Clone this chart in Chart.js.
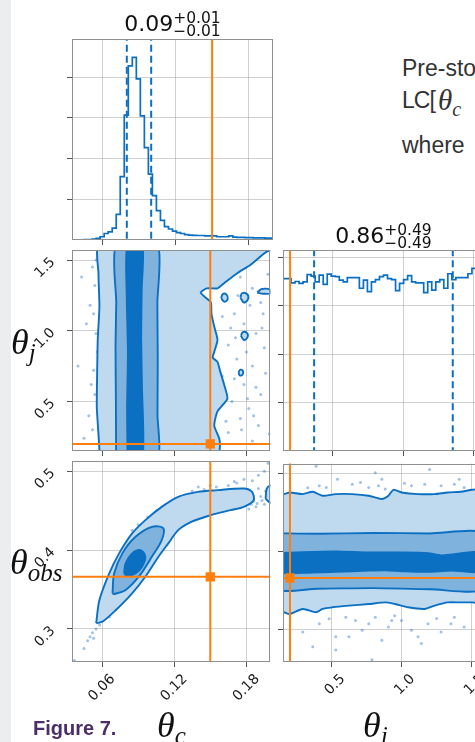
<!DOCTYPE html>
<html>
<head>
<meta charset="utf-8">
<title>Figure 7</title>
<script src="https://cdn.jsdelivr.net/npm/chart.js@4.4.1/dist/chart.umd.min.js"></script>
<style>
  html, body { margin: 0; padding: 0; background: #fff; width: 475px; height: 742px; overflow: hidden; }
  #page { position: relative; width: 475px; height: 742px; overflow: hidden; }
  #strip { position: absolute; left: 0; top: 0; width: 11px; height: 742px; background: #ebedee; }
  canvas { position: absolute; }
  .ttl { position: absolute; width: 201px; text-align: center; font-family: "DejaVu Sans"; font-size: 22px;
         line-height: 1; color: #111; white-space: nowrap; z-index: 5; }
  .ttl .ss { display: inline-block; vertical-align: middle; font-size: 15.5px; line-height: 13px; text-align: left; }
  .ttl .ss span { display: block; }
  .axl { position: absolute; font-family: "Liberation Serif"; font-style: italic; font-size: 36px; line-height: 1;
         color: #111; white-space: nowrap; z-index: 5; }
  .axl .sb { font-size: 25px; position: relative; top: 7px; }
  .txt { position: absolute; font-family: "Liberation Sans"; font-size: 23px; line-height: 1; color: #333;
         white-space: nowrap; z-index: 5; }
  .th { position: absolute; font-family: "Liberation Serif"; font-style: italic; font-size: 29px; line-height: 1;
        color: #333; white-space: nowrap; z-index: 5; }
  .th .sb { font-size: 20px; position: relative; top: 6px; }
  #fig { position: absolute; left: 33px; top: 718px; font-family: "Liberation Sans"; font-size: 20px;
         font-weight: bold; line-height: 1; color: #4b2d69; z-index: 5; }
</style>
</head>
<body>
<div id="page">
  <div id="strip"></div>

  <div class="ttl" style="left:72px;top:12px">0.09<span class="ss"><span>+0.01</span><span>−0.01</span></span></div>
  <div class="ttl" style="left:283px;top:224px">0.86<span class="ss"><span>+0.49</span><span>−0.49</span></span></div>

  <div class="txt" style="left:402px;top:57px">Pre-sto</div>
  <div class="txt" style="left:402px;top:89px;letter-spacing:-1px">LC[</div>
  <div class="th" style="left:438px;top:86px">θ<span class="sb">c</span></div>
  <div class="txt" style="left:402px;top:134px">where</div>

  <div class="axl" style="left:11px;top:324px">θ<span class="sb">j</span></div>
  <div class="axl" style="left:10px;top:544px">θ<span class="sb">obs</span></div>
  <div class="axl" style="left:157px;top:707px">θ<span class="sb">c</span></div>
  <div class="axl" style="left:363px;top:707px">θ<span class="sb">j</span></div>

  <div id="fig">Figure 7.</div>
</div>

<script>
// ---- values ----
const thetaCRange = [0.035, 0.2];
const thetaJRange = [0.15, 1.5708];
const thetaObsRange = [0.258, 0.513];

const thetaCTicks = [0.06, 0.12, 0.18];
const thetaCTickLabels = ['0.06', '0.12', '0.18'];
const thetaJTicks = [0.5, 1.0, 1.5];
const thetaJTickLabels = ['0.5', '1.0', '1.5'];
const thetaObsTicks = [0.3, 0.4, 0.5];
const thetaObsTickLabels = ['0.3', '0.4', '0.5'];
const histTicks = [1, 2, 3, 4];

const truthThetaC = 0.15;
const truthThetaJ = 0.2;
const truthThetaObs = 0.366;

const thetaCQuantiles = [0.08, 0.10];
const thetaJQuantiles = [0.37, 1.35];

// histogram heights, 50 equal bins across the axis range
const thetaCHist = [0, 0, 0.005, 0.01, 0.01, 0.02, 0.04, 0.08, 0.16, 0.2,
  0.29, 0.63, 1.56, 3.07, 4.28, 4.49, 3.96, 3.05, 2.27, 1.62,
  1.09, 0.72, 0.48, 0.33, 0.27, 0.22, 0.18, 0.16, 0.13, 0.12,
  0.115, 0.11, 0.11, 0.1, 0.1, 0.1, 0.08, 0.08, 0.08, 0.1,
  0.07, 0.065, 0.065, 0.06, 0.06, 0.05, 0.05, 0.05, 0.045, 0.045];
const thetaCHistMax = 4.94;

const thetaJHist = [3.56, 3.56, 3.47, 3.5, 3.46, 3.49, 3.64, 3.61, 3.49, 3.63,
  3.44, 3.65, 3.61, 3.6, 3.53, 3.49, 3.58, 3.58, 3.58, 3.36,
  3.53, 3.29, 3.49, 3.54, 3.6, 3.63, 3.56, 3.54, 3.31, 3.46,
  3.54, 3.62, 3.49, 3.47, 3.47, 3.27, 3.49, 3.32, 3.49, 3.54,
  3.36, 3.66, 3.54, 3.58, 3.58, 3.58, 3.66, 3.77, 3.7, 3.62];
const thetaJHistMax = 4.15;

// theta_c vs theta_j contours
const cjOuter = [[0.0575, 0.10], [0.0578, 0.158], [0.0564, 0.347], [0.0556, 0.465], [0.0559, 0.70],
  [0.0564, 0.936], [0.0578, 1.171], [0.057, 1.407], [0.0578, 1.60], [0.21, 1.60],
  [0.197, 1.559], [0.1833, 1.465], [0.1724, 1.407], [0.1615, 1.336], [0.156, 1.30], [0.147, 1.30],
  [0.142, 1.27], [0.146, 1.235], [0.1505, 1.2], [0.151, 1.12], [0.1533, 1.03], [0.156, 0.936],
  [0.1533, 0.85], [0.152, 0.81], [0.156, 0.78], [0.158, 0.72], [0.1615, 0.62], [0.1642, 0.52],
  [0.156, 0.43], [0.1533, 0.33], [0.1574, 0.24], [0.158, 0.18], [0.156, 0.10], [0.0575, 0.10]];
const cjMiddle = [[0.0717, 0.1], [0.0715, 0.5], [0.0712, 0.9], [0.0718, 1.2], [0.0716, 1.6],
  [0.1063, 1.6], [0.106, 1.2], [0.1063, 0.8], [0.1061, 0.4], [0.1063, 0.1], [0.0717, 0.1]];
const cjInner = [[0.0812, 0.1], [0.0808, 0.45], [0.0815, 0.85], [0.0805, 1.25], [0.081, 1.6],
  [0.0935, 1.6], [0.093, 1.3], [0.0925, 0.95], [0.0932, 0.6], [0.0936, 0.1], [0.0812, 0.1]];
const cjIslands = [
  [[0.149, 1.40], [0.1503, 1.42], [0.1522, 1.41], [0.152, 1.39], [0.150, 1.385], [0.149, 1.40]],
  [[0.159, 1.23], [0.1605, 1.26], [0.1635, 1.255], [0.1645, 1.225], [0.162, 1.205], [0.159, 1.23]],
  [[0.175, 1.235], [0.1765, 1.265], [0.1805, 1.26], [0.1815, 1.225], [0.178, 1.2], [0.175, 1.235]],
  [[0.189, 1.27], [0.193, 1.295], [0.2, 1.29], [0.2, 1.265], [0.194, 1.262], [0.189, 1.27]],
  [[0.1755, 0.965], [0.177, 0.99], [0.1805, 0.985], [0.181, 0.955], [0.178, 0.935], [0.1755, 0.965]],
  [[0.1735, 0.705], [0.175, 0.725], [0.1772, 0.715], [0.1768, 0.69], [0.1745, 0.685], [0.1735, 0.705]]
];
const cjSamples = [[0.052, 1.45], [0.054, 1.32], [0.050, 1.18], [0.053, 1.12], [0.047, 1.05], [0.055, 0.98],
  [0.040, 0.75], [0.051, 0.62], [0.054, 0.55], [0.049, 0.40], [0.052, 0.30], [0.045, 0.24], [0.055, 1.5],
  [0.056, 0.85], [0.043, 1.38], [0.053, 0.72], [0.165, 1.45], [0.175, 1.38], [0.185, 1.30], [0.192, 1.20],
  [0.170, 1.12], [0.178, 1.05], [0.188, 0.98], [0.165, 0.90], [0.195, 0.88], [0.172, 0.80], [0.185, 0.75],
  [0.160, 0.68], [0.178, 0.62], [0.192, 0.55], [0.168, 0.50], [0.182, 0.45], [0.175, 0.38], [0.190, 0.33],
  [0.165, 0.28], [0.185, 0.22], [0.198, 1.40], [0.183, 1.18], [0.171, 0.95], [0.196, 0.70], [0.176, 0.30],
  [0.160, 1.10], [0.188, 0.60], [0.170, 0.66], [0.193, 1.02], [0.18, 0.85], [0.1355, 0.712],
  [0.167, 1.02], [0.181, 0.52], [0.163, 0.36], [0.194, 1.12], [0.173, 1.25], [0.186, 0.40], [0.199, 0.27]];

// theta_c vs theta_obs contours
const coOuter = [[0.0551, 0.3072], [0.0578, 0.3367], [0.066, 0.3705], [0.0742, 0.3958], [0.085, 0.4211],
  [0.096, 0.438], [0.1096, 0.4548], [0.1233, 0.4675], [0.1396, 0.4738], [0.156, 0.476], [0.1779, 0.4781],
  [0.1847, 0.4738], [0.1861, 0.4633], [0.1779, 0.4548], [0.1669, 0.4506], [0.1505, 0.4443], [0.1342, 0.4358],
  [0.1233, 0.4253], [0.1151, 0.4085], [0.1069, 0.3915], [0.096, 0.3662], [0.085, 0.3452], [0.0715, 0.324],
  [0.0605, 0.3093], [0.0551, 0.3072]];
const coOuterEdge = [[0.196, 0.465], [0.197, 0.478], [0.2, 0.482], [0.205, 0.482], [0.205, 0.462],
  [0.2, 0.46], [0.196, 0.465]];
const coMiddle = [[0.0687, 0.3452], [0.0701, 0.3705], [0.0769, 0.3958], [0.0878, 0.4168], [0.1014, 0.4295],
  [0.111, 0.4275], [0.1096, 0.4127], [0.1014, 0.3915], [0.0905, 0.3662], [0.0796, 0.3494], [0.0701, 0.3443],
  [0.0687, 0.3452]];
const coInner = [[0.0783, 0.3705], [0.0796, 0.3832], [0.085, 0.3958], [0.0919, 0.4], [0.096, 0.3915],
  [0.0932, 0.3789], [0.0878, 0.3705], [0.081, 0.3671], [0.0783, 0.3705]];
const coSamples = [[0.115, 0.458], [0.125, 0.468], [0.135, 0.475], [0.145, 0.477], [0.155, 0.480],
  [0.165, 0.482], [0.172, 0.485], [0.178, 0.490], [0.185, 0.488], [0.19, 0.495], [0.195, 0.50], [0.198, 0.51],
  [0.19, 0.478], [0.186, 0.462], [0.192, 0.468], [0.196, 0.475], [0.188, 0.455], [0.182, 0.452], [0.195, 0.458],
  [0.175, 0.455], [0.105, 0.450], [0.098, 0.442], [0.09, 0.432], [0.085, 0.425], [0.16, 0.476], [0.15, 0.482],
  [0.14, 0.48], [0.055, 0.30], [0.052, 0.295], [0.05, 0.29], [0.048, 0.285], [0.053, 0.288], [0.058, 0.305],
  [0.045, 0.275], [0.037, 0.26], [0.06, 0.31], [0.066, 0.315], [0.07, 0.335], [0.072, 0.34],
  [0.193, 0.463], [0.189, 0.459], [0.197, 0.470], [0.184, 0.458], [0.170, 0.487]];

// theta_j vs theta_obs contours
const joOuter = [[0.10, 0.4738], [0.1556, 0.4738], [0.198, 0.4759], [0.292, 0.4738], [0.363, 0.4768],
  [0.433, 0.4717], [0.528, 0.4738], [0.646, 0.4738], [0.764, 0.4717], [0.858, 0.4675], [0.905, 0.4717],
  [0.941, 0.4793], [0.999, 0.4759], [1.117, 0.4738], [1.235, 0.4738], [1.329, 0.4759], [1.423, 0.4768],
  [1.506, 0.4793], [1.60, 0.48], [1.60, 0.3346], [1.506, 0.3346], [1.423, 0.3346], [1.329, 0.3346],
  [1.235, 0.3304], [1.164, 0.3262], [1.046, 0.3283], [0.952, 0.3325], [0.882, 0.3346], [0.764, 0.3325],
  [0.622, 0.3304], [0.504, 0.3283], [0.433, 0.3262], [0.386, 0.3219], [0.292, 0.3262], [0.198, 0.3198],
  [0.1556, 0.3219], [0.10, 0.3219], [0.10, 0.4738]];
const joMiddle = [[0.1, 0.4235], [0.4, 0.4228], [0.8, 0.4238], [1.2, 0.4232], [1.6, 0.4225],
  [1.6, 0.3525], [1.2, 0.3515], [0.8, 0.353], [0.4, 0.3522], [0.1, 0.3527], [0.1, 0.4235]];
const joInner = [[0.1, 0.3979], [0.292, 0.3992], [0.528, 0.40], [0.764, 0.3987], [0.999, 0.3987],
  [1.188, 0.3979], [1.282, 0.3949], [1.377, 0.3966], [1.6, 0.3992], [1.6, 0.3747], [1.353, 0.3755],
  [1.188, 0.3738], [0.999, 0.3747], [0.882, 0.3759], [0.764, 0.3755], [0.528, 0.3738], [0.292, 0.3726],
  [0.1, 0.3738], [0.1, 0.3979]];
const joSamples = [[0.327, 0.482], [0.41, 0.4844], [0.54, 0.4928], [0.646, 0.4865], [0.705, 0.4886],
  [0.764, 0.4823], [0.834, 0.4844], [0.858, 0.4928], [0.882, 0.4802], [1.07, 0.4844], [1.165, 0.4865],
  [1.2, 0.5055], [1.282, 0.4844], [1.377, 0.4865], [1.412, 0.4928], [1.447, 0.4823], [0.387, 0.5097],
  [0.811, 0.5013], [0.292, 0.2966], [0.41, 0.3072], [0.48, 0.3135], [0.528, 0.2903], [0.622, 0.2903],
  [0.669, 0.3114], [0.764, 0.3072], [0.811, 0.3156], [0.858, 0.2861], [0.905, 0.3029], [0.999, 0.3114],
  [1.07, 0.2987], [1.141, 0.2819], [1.188, 0.3072], [1.282, 0.2966], [1.377, 0.3156], [1.447, 0.3029],
  [0.363, 0.2776], [0.787, 0.2608], [1.117, 0.2903], [0.528, 0.2734], [0.929, 0.3114], [0.717, 0.2987],
  [1.353, 0.3072], [0.60, 0.3155], [0.95, 0.3175], [1.25, 0.3140], [0.46, 0.4822], [1.02, 0.4878]];

// ---- styling ----
const BLUE = '#0b6fc2';
const LIGHT = '#bfdaef';
const MID = '#7fb3de';
const DARK = '#0b6fc2';
const ORANGE = '#ff7f0e';
const DOT = 'rgba(30,110,195,0.42)';
const PW = 201, PH = 201;
const colX = [72, 283];
const rowY = [39, 250, 461];

Chart.defaults.font.family = 'DejaVu Sans';

function pts(list) { return list.map(p => ({x: p[0], y: p[1]})); }

function histPoints(range, counts) {
  const w = (range[1] - range[0]) / counts.length;
  const out = counts.map((c, i) => ({x: range[0] + i * w, y: c}));
  out.push({x: range[1], y: counts[counts.length - 1]});
  return out;
}

function band(poly, fill, order, tension) {
  return {data: pts(poly), showLine: true, fill: 'shape', backgroundColor: fill, borderColor: BLUE,
    borderWidth: 1.9, pointRadius: 0, tension: tension, order: order, clip: 0};
}
function vline(x, color, dash, order) {
  return {data: [{x: x, y: -100}, {x: x, y: 100}], showLine: true, borderColor: color, borderWidth: 2,
    borderDash: dash, pointRadius: 0, order: order, clip: 0};
}
function hline(y, color, order) {
  return {data: [{x: -100, y: y}, {x: 100, y: y}], showLine: true, borderColor: color, borderWidth: 2,
    pointRadius: 0, order: order, clip: 0};
}
function marker(x, y) {
  return {data: [{x: x, y: y}], pointStyle: 'rect', pointRadius: 6.6, backgroundColor: ORANGE,
    borderWidth: 0, order: 0, clip: 0};
}
function samples(list) {
  return {data: pts(list), pointRadius: 1.5, backgroundColor: DOT, borderWidth: 0, order: 9, clip: 0};
}

function scale(range, ticks, labels, position, pad) {
  const horizontal = position === 'bottom';
  return {
    type: 'linear', position: position, min: range[0], max: range[1], z: 1,
    afterBuildTicks: s => { s.ticks = ticks.map(v => ({value: v})); },
    ticks: {
      callback: (v, i) => labels ? labels[i] : '',
      minRotation: labels ? 45 : 0, maxRotation: labels ? 45 : 0,
      labelOffset: labels && horizontal ? 11 : 0,
      padding: pad, color: '#1a1a1a', font: {size: 14}
    },
    grid: {color: 'rgba(150,150,150,0.45)', lineWidth: 1, drawTicks: true, tickLength: 5,
      tickColor: '#555', tickWidth: 1},
    border: {display: false}
  };
}

const framePlugin = {
  id: 'frame',
  afterDraw(chart) {
    const a = chart.chartArea, ctx = chart.ctx;
    ctx.save();
    ctx.strokeStyle = '#8f8f8f';
    ctx.lineWidth = 1;
    ctx.strokeRect(Math.round(a.left) + 0.5, Math.round(a.top) + 0.5, Math.round(a.width) - 1, Math.round(a.height) - 1);
    ctx.restore();
  }
};

function panel(px, py, pad, xs, ys, datasets) {
  const c = document.createElement('canvas');
  const W = PW + pad.l + pad.r, H = PH + pad.t + pad.b;
  c.width = W; c.height = H;
  c.style.left = (px - pad.l) + 'px';
  c.style.top = (py - pad.t) + 'px';
  c.style.width = W + 'px';
  c.style.height = H + 'px';
  document.getElementById('page').appendChild(c);
  xs.afterFit = s => { s.height = pad.b; s.paddingLeft = 0; s.paddingRight = 0; };
  ys.afterFit = s => { s.width = pad.l; s.paddingTop = 0; s.paddingBottom = 0; };
  new Chart(c, {
    type: 'scatter',
    data: {datasets: datasets},
    options: {
      responsive: false, animation: false, events: [],
      layout: {padding: {top: pad.t, right: pad.r, left: 0, bottom: 0}},
      plugins: {legend: {display: false}, tooltip: {enabled: false}},
      scales: {x: xs, y: ys}
    },
    plugins: [framePlugin]
  });
}

// top-left: theta_c histogram
panel(colX[0], rowY[0], {l: 8, t: 4, r: 4, b: 8},
  scale(thetaCRange, thetaCTicks, null, 'bottom', 4),
  scale([0, thetaCHistMax], histTicks, null, 'left', 4),
  [
    vline(truthThetaC, ORANGE, [], 0),
    vline(thetaCQuantiles[0], BLUE, [7, 4], 1),
    vline(thetaCQuantiles[1], BLUE, [7, 4], 1),
    {data: histPoints(thetaCRange, thetaCHist), showLine: true, stepped: 'before', borderColor: BLUE,
      borderWidth: 1.7, pointRadius: 0, order: 2, clip: 0}
  ]);

// middle-left: theta_c vs theta_j
panel(colX[0], rowY[1], {l: 61, t: 14, r: 4, b: 8},
  scale(thetaCRange, thetaCTicks, null, 'bottom', 4),
  scale(thetaJRange, thetaJTicks, thetaJTickLabels, 'left', 14),
  [
    marker(truthThetaC, truthThetaJ),
    vline(truthThetaC, ORANGE, [], 1),
    hline(truthThetaJ, ORANGE, 1),
    band(cjInner, DARK, 2, 0.2),
    band(cjMiddle, MID, 3, 0.2),
    band(cjOuter, LIGHT, 4, 0.2),
    ...cjIslands.map(p => band(p, LIGHT, 5, 0.4)),
    samples(cjSamples)
  ]);

// middle-right: theta_j histogram
panel(colX[1], rowY[1], {l: 8, t: 4, r: 4, b: 8},
  scale(thetaJRange, thetaJTicks, null, 'bottom', 4),
  scale([0, thetaJHistMax], histTicks, null, 'left', 4),
  [
    vline(truthThetaJ, ORANGE, [], 0),
    vline(thetaJQuantiles[0], BLUE, [7, 4], 1),
    vline(thetaJQuantiles[1], BLUE, [7, 4], 1),
    {data: histPoints(thetaJRange, thetaJHist), showLine: true, stepped: 'before', borderColor: BLUE,
      borderWidth: 1.7, pointRadius: 0, order: 2, clip: 0}
  ]);

// bottom-left: theta_c vs theta_obs
panel(colX[0], rowY[2], {l: 61, t: 14, r: 4, b: 60},
  scale(thetaCRange, thetaCTicks, thetaCTickLabels, 'bottom', 4),
  scale(thetaObsRange, thetaObsTicks, thetaObsTickLabels, 'left', 14),
  [
    marker(truthThetaC, truthThetaObs),
    vline(truthThetaC, ORANGE, [], 1),
    hline(truthThetaObs, ORANGE, 1),
    band(coInner, DARK, 2, 0.35),
    band(coMiddle, MID, 3, 0.35),
    band(coOuter, LIGHT, 4, 0.3),
    band(coOuterEdge, LIGHT, 4, 0.3),
    samples(coSamples)
  ]);

// bottom-right: theta_j vs theta_obs
panel(colX[1], rowY[2], {l: 8, t: 4, r: 4, b: 60},
  scale(thetaJRange, thetaJTicks, thetaJTickLabels, 'bottom', 4),
  scale(thetaObsRange, thetaObsTicks, null, 'left', 4),
  [
    marker(truthThetaJ, truthThetaObs),
    vline(truthThetaJ, ORANGE, [], 1),
    hline(truthThetaObs, ORANGE, 1),
    band(joInner, DARK, 2, 0.25),
    band(joMiddle, MID, 3, 0.25),
    band(joOuter, LIGHT, 4, 0.25),
    samples(joSamples)
  ]);
</script>
</body>
</html>
